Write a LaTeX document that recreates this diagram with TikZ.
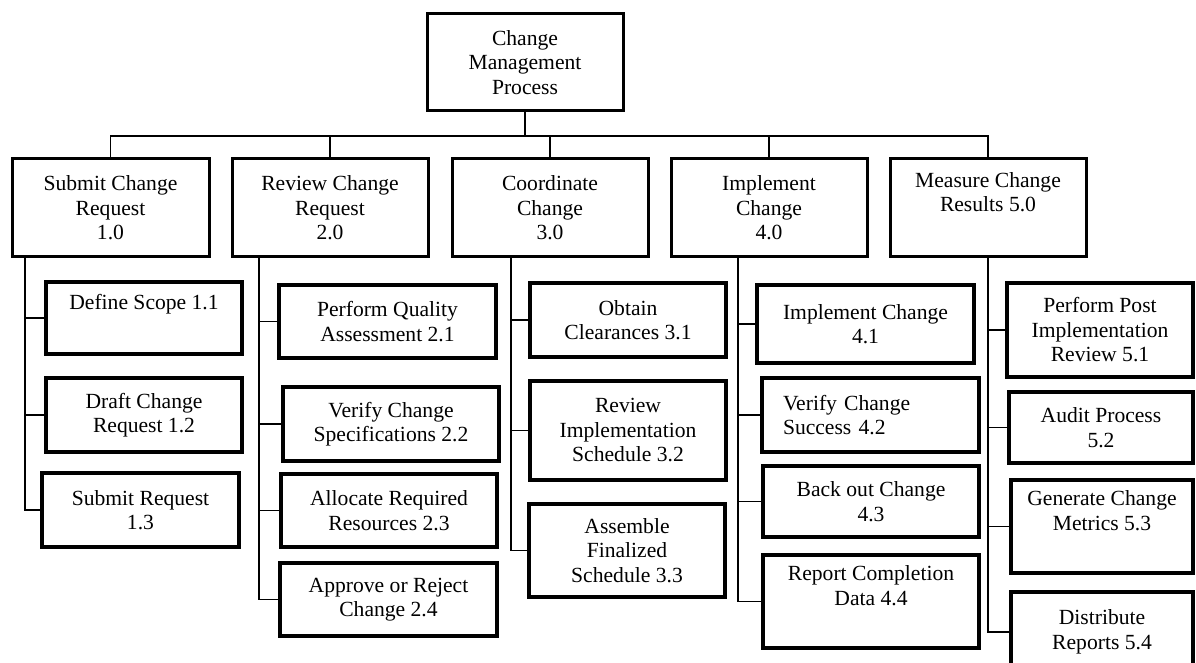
\documentclass[tikz,border=0pt]{standalone}
\usepackage{fontspec}
\setmainfont{Liberation Serif}
\usetikzlibrary{positioning}

\begin{document}
\begin{tikzpicture}[x=0.5pt,y=-0.5pt,
  box/.style={draw,line width=1.5pt,align=center,inner sep=0pt,font=\fontsize{10.8}{12.25}\selectfont},
  task/.style={box,line width=1.8pt},
  dim/.style 2 args={minimum width=#1*0.5pt,minimum height=#2*0.5pt},
  link/.style={line width=0.85pt}]
  \path[use as bounding box,clip] (0,0) rectangle (1196,663);
  \node[box,dim={196}{97}] (root) at (525,62.5) {Change\\Management\\Process};
  \node[box,dim={197}{98}] (a) at (110.5,208) {Submit Change\\Request\\1.0};
  \node[box,dim={196}{98}] (b) at (330,208) {Review Change\\Request\\2.0};
  \node[box,dim={196}{98}] (c) at (550,208) {Coordinate\\Change\\3.0};
  \node[box,dim={196}{98}] (d) at (769,208) {Implement\\Change\\4.0};
  \node[box,dim={196}{98}] (e) at (988,208) {Measure Change\\Results 5.0\\\strut};
  \node[task,dim={196}{72}] (a1) at (144,318) {Define Scope 1.1\\\strut};
  \node[task,dim={196}{74}] (a2) at (144,415) {Draft Change\\Request 1.2};
  \node[task,dim={197}{74}] (a3) at (140.5,510) {Submit Request\\1.3};
  \node[task,dim={217}{73}] (b1) at (387.5,321.5) {Perform Quality\\Assessment 2.1};
  \node[task,dim={216}{74}] (b2) at (391,424) {Verify Change\\Specifications 2.2};
  \node[task,dim={216}{73}] (b3) at (389,510.5) {Allocate Required\\Resources 2.3};
  \node[task,dim={217}{73}] (b4) at (388.5,599.5) {Approve or Reject\\Change 2.4};
  \node[task,dim={196}{74}] (c1) at (628,320) {Obtain\\Clearances 3.1};
  \node[task,dim={196}{99}] (c2) at (628,430.5) {Review\\Implementation\\Schedule 3.2};
  \node[task,dim={196}{93}] (c3) at (627,550.5) {Assemble\\Finalized\\Schedule 3.3};
  \node[task,dim={217}{78}] (d1) at (865.5,324) {Implement Change\\4.1};
  \node[task,dim={217}{74},align=left,text width=87.5pt,inner xsep=10.5pt] (d2) at (870.5,415) {Verify Change\\Success 4.2};
  \node[task,dim={216}{71}] (d3) at (871,501.5) {Back out Change\\4.3};
  \node[task,dim={216}{93}] (d4) at (871,601.5) {Report Completion\\Data 4.4\\\strut};
  \node[task,dim={186}{94}] (e1) at (1100,330) {Perform Post\\Implementation\\Review 5.1};
  \node[task,dim={184}{71}] (e2) at (1101,427.5) {Audit Process\\5.2};
  \node[task,dim={182}{93}] (e3) at (1102,526.5) {Generate Change\\Metrics 5.3\\\strut};
  \node[task,dim={182}{80}] (e4) at (1102,632) {Distribute\\Reports 5.4};
  \coordinate (bus) at (525,136);
  \coordinate (sa) at (25,257);
  \coordinate (sb) at (259,257);
  \coordinate (sc) at (511,257);
  \coordinate (sd) at (738,257);
  \coordinate (se) at (e.south);
  \draw[link] (root.south) -- (bus);
  \foreach \n in {a,b,c,d,e} \draw[link] (bus) -| (\n.north);
  \foreach \s/\c in {sa/a1,sa/a2,sa/a3,sb/b1,sb/b2,sb/b3,sb/b4,sc/c1,sc/c2,sc/c3,sd/d1,sd/d2,sd/d3,sd/d4,se/e1,se/e2,se/e3,se/e4}
    \draw[link] (\s) |- (\c.west);
\end{tikzpicture}
\end{document}
